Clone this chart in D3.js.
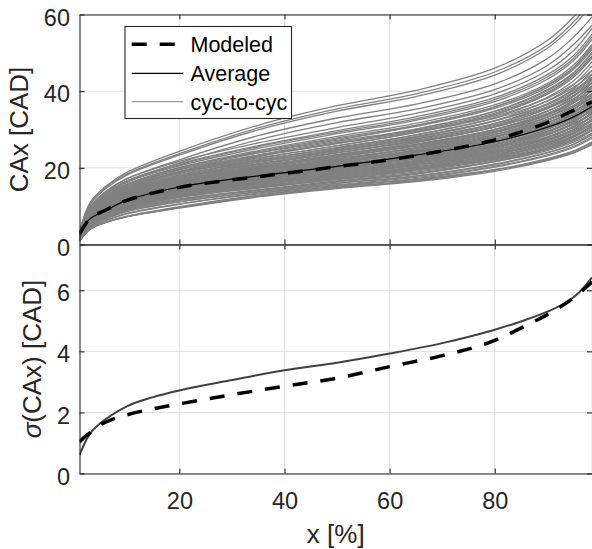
<!DOCTYPE html>
<html>
<head>
<meta charset="utf-8">
<script src="https://cdn.jsdelivr.net/npm/d3@7"></script>
<style>
  body { margin: 0; background: #fff; }
  svg { display: block; }
  text { font-family: "Liberation Sans", Arial, Helvetica, sans-serif; fill: #262626; }
</style>
</head>
<body>
<svg id="chart" width="592" height="549"></svg>
<script>
// ---- data ---------------------------------------------------------------
// positions x [%] (burned mass fraction) where each curve is sampled
const xPercent = [1, 3, 6, 10, 20, 35, 50, 65, 80, 90, 95, 98.5];

// individual cycles: CAx [CAD] at each xPercent
const cycToCyc = [
  [0.9, 3.9, 5.7, 7.2, 9.5, 12.4, 14.6, 16.4, 19.1, 21.9, 23.9, 26.3],
  [0.9, 4.0, 5.8, 7.3, 9.6, 12.6, 14.8, 16.6, 19.4, 22.2, 24.3, 26.6],
  [0.9, 4.0, 5.8, 7.3, 9.7, 12.7, 14.9, 16.7, 19.5, 22.4, 24.4, 26.8],
  [0.9, 4.1, 5.9, 7.4, 9.9, 12.9, 15.2, 17.0, 19.5, 22.0, 24.0, 26.0],
  [0.9, 4.2, 6.2, 8.0, 10.5, 13.2, 15.4, 17.2, 20.2, 23.1, 25.3, 27.7],
  [0.9, 4.3, 6.3, 8.1, 10.6, 13.4, 15.6, 17.5, 20.4, 23.4, 25.6, 28.1],
  [1.0, 4.6, 6.7, 8.6, 11.1, 13.7, 15.9, 17.8, 20.8, 23.9, 26.1, 28.6],
  [1.0, 4.6, 6.7, 8.7, 11.2, 13.8, 16.0, 17.9, 21.0, 24.0, 26.2, 28.8],
  [1.0, 4.7, 6.8, 8.9, 11.5, 14.1, 16.3, 18.3, 21.8, 25.3, 28.0, 31.0],
  [1.1, 4.8, 6.9, 9.0, 11.7, 14.2, 16.5, 18.5, 21.6, 24.8, 27.1, 29.7],
  [1.1, 4.8, 7.0, 9.2, 11.9, 14.3, 16.6, 18.6, 21.7, 24.9, 27.2, 29.9],
  [1.2, 4.9, 7.3, 9.3, 12.2, 14.7, 16.9, 18.9, 21.6, 24.5, 26.7, 29.1],
  [1.4, 5.1, 7.5, 9.5, 12.4, 14.8, 17.0, 19.2, 22.1, 25.2, 27.5, 29.9],
  [1.4, 5.3, 7.7, 9.8, 12.7, 15.1, 17.2, 19.6, 22.7, 26.3, 29.2, 32.7],
  [1.4, 5.2, 7.6, 9.7, 12.6, 15.1, 17.3, 19.5, 22.5, 25.6, 28.0, 30.4],
  [1.2, 5.0, 7.5, 9.6, 12.5, 15.1, 17.4, 19.5, 22.3, 25.2, 27.5, 29.9],
  [1.4, 5.3, 7.7, 9.8, 12.8, 15.2, 17.5, 19.8, 22.8, 25.9, 28.4, 30.8],
  [1.4, 5.5, 8.0, 10.1, 13.1, 15.6, 17.7, 20.2, 23.4, 27.1, 30.1, 33.6],
  [1.4, 5.3, 7.8, 10.0, 13.0, 15.5, 17.8, 20.1, 23.1, 26.3, 28.8, 31.3],
  [1.3, 5.2, 7.7, 9.8, 12.9, 15.6, 17.9, 20.0, 22.9, 26.0, 28.3, 30.8],
  [1.4, 5.4, 7.9, 10.1, 13.1, 15.7, 18.0, 20.3, 23.4, 26.6, 29.2, 31.7],
  [1.5, 5.6, 8.2, 10.4, 13.5, 16.0, 18.2, 20.7, 24.0, 27.8, 30.9, 34.6],
  [1.5, 5.5, 8.1, 10.2, 13.4, 15.9, 18.3, 20.7, 23.8, 27.1, 29.6, 32.2],
  [1.3, 5.3, 7.9, 10.1, 13.2, 16.0, 18.4, 20.6, 23.6, 26.7, 29.1, 31.6],
  [1.5, 5.6, 8.1, 10.4, 13.5, 16.1, 18.5, 20.9, 24.1, 27.4, 30.0, 32.6],
  [1.5, 5.8, 8.4, 10.7, 13.8, 16.5, 18.7, 21.3, 24.7, 28.6, 31.8, 35.5],
  [1.5, 5.6, 8.3, 10.5, 13.7, 16.4, 18.8, 21.2, 24.4, 27.8, 30.5, 33.1],
  [1.3, 5.5, 8.1, 10.4, 13.6, 16.4, 18.9, 21.2, 24.2, 27.4, 29.9, 32.5],
  [1.5, 5.7, 8.4, 10.6, 13.9, 16.5, 19.0, 21.5, 24.7, 28.1, 30.8, 33.4],
  [1.5, 6.0, 8.6, 10.9, 14.2, 16.9, 19.2, 21.9, 25.3, 29.4, 32.6, 36.5],
  [1.5, 5.8, 8.5, 10.8, 14.1, 16.8, 19.3, 21.8, 25.1, 28.6, 31.3, 34.0],
  [1.4, 5.6, 8.3, 10.7, 14.0, 16.9, 19.4, 21.7, 24.8, 28.1, 30.7, 33.4],
  [1.6, 5.9, 8.6, 10.9, 14.2, 17.0, 19.5, 22.0, 25.4, 28.9, 31.6, 34.3],
  [1.6, 6.1, 8.9, 11.2, 14.6, 17.3, 19.7, 22.5, 26.0, 30.1, 33.5, 37.4],
  [1.6, 5.9, 8.7, 11.1, 14.5, 17.2, 19.8, 22.4, 25.7, 29.3, 32.1, 34.8],
  [1.4, 5.8, 8.6, 10.9, 14.3, 17.3, 19.9, 22.3, 25.5, 28.9, 31.4, 34.2],
  [1.6, 6.0, 8.8, 11.2, 14.6, 17.4, 20.0, 22.6, 26.0, 29.6, 32.4, 35.2],
  [1.6, 6.3, 9.1, 11.5, 14.9, 17.8, 20.2, 23.0, 26.7, 30.9, 34.3, 38.4],
  [1.6, 6.1, 8.9, 11.4, 14.8, 17.7, 20.3, 22.9, 26.4, 30.0, 32.9, 35.7],
  [1.4, 5.9, 8.8, 11.2, 14.7, 17.7, 20.4, 22.8, 26.1, 29.6, 32.2, 35.1],
  [1.6, 6.2, 9.1, 11.5, 15.0, 17.9, 20.6, 23.3, 26.8, 30.5, 33.4, 36.3],
  [1.7, 6.4, 9.3, 11.8, 15.3, 18.2, 20.7, 23.6, 27.3, 31.7, 35.2, 39.3],
  [1.7, 6.3, 9.2, 11.7, 15.3, 18.2, 20.9, 23.6, 27.2, 30.9, 33.9, 36.8],
  [1.5, 6.1, 9.0, 11.5, 15.0, 18.2, 20.9, 23.4, 26.8, 30.3, 33.0, 35.9],
  [1.7, 6.4, 9.3, 11.9, 15.5, 18.4, 21.2, 24.0, 27.6, 31.4, 34.3, 37.3],
  [1.7, 6.6, 9.5, 12.1, 15.7, 18.7, 21.2, 24.2, 28.0, 32.4, 36.0, 40.3],
  [1.5, 6.2, 9.2, 11.8, 15.4, 18.6, 21.4, 24.0, 27.4, 31.0, 33.8, 36.8],
  [1.7, 6.5, 9.5, 12.0, 15.7, 18.7, 21.5, 24.3, 28.0, 31.8, 34.8, 37.8],
  [1.7, 6.7, 9.8, 12.4, 16.1, 19.1, 21.7, 24.7, 28.6, 33.2, 36.9, 41.2],
  [1.7, 6.5, 9.6, 12.2, 15.9, 19.0, 21.8, 24.6, 28.3, 32.3, 35.3, 38.4],
  [1.5, 6.4, 9.4, 12.0, 15.8, 19.1, 21.9, 24.5, 28.0, 31.8, 34.6, 37.7],
  [1.8, 6.6, 9.7, 12.4, 16.1, 19.2, 22.1, 25.0, 28.7, 32.7, 35.8, 38.9],
  [1.8, 6.9, 10.0, 12.7, 16.4, 19.5, 22.2, 25.3, 29.3, 34.0, 37.7, 42.2],
  [1.8, 6.7, 9.9, 12.5, 16.4, 19.5, 22.4, 25.3, 29.1, 33.2, 36.3, 39.4],
  [1.6, 6.5, 9.6, 12.3, 16.1, 19.5, 22.4, 25.1, 28.7, 32.5, 35.4, 38.5],
  [1.8, 7.0, 10.2, 12.9, 16.8, 20.0, 22.7, 25.9, 30.0, 34.7, 38.6, 43.1],
  [1.8, 6.8, 10.0, 12.8, 16.6, 19.8, 22.8, 25.8, 29.6, 33.7, 36.9, 40.1],
  [1.6, 6.6, 9.8, 12.6, 16.5, 19.9, 22.9, 25.6, 29.3, 33.2, 36.2, 39.4],
  [1.8, 6.9, 10.2, 12.9, 16.9, 20.1, 23.1, 26.1, 30.0, 34.2, 37.4, 40.7],
  [1.9, 7.2, 10.5, 13.3, 17.2, 20.5, 23.3, 26.6, 30.8, 35.6, 39.6, 44.3],
  [1.6, 6.8, 10.1, 12.9, 16.8, 20.4, 23.4, 26.2, 30.0, 33.9, 37.0, 40.2],
  [1.9, 7.1, 10.3, 13.2, 17.2, 20.4, 23.5, 26.6, 30.6, 34.8, 38.1, 41.4],
  [1.9, 7.4, 10.8, 13.6, 17.7, 21.0, 23.9, 27.2, 31.5, 36.6, 40.6, 45.4],
  [1.9, 7.2, 10.5, 13.4, 17.4, 20.8, 23.9, 27.0, 31.1, 35.4, 38.7, 42.1],
  [1.7, 7.0, 10.3, 13.2, 17.3, 20.9, 24.0, 26.9, 30.7, 34.8, 37.9, 41.3],
  [1.9, 7.3, 10.7, 13.6, 17.7, 21.1, 24.3, 27.5, 31.6, 36.0, 39.4, 42.8],
  [2.0, 7.6, 11.0, 14.0, 18.1, 21.6, 24.5, 27.9, 32.3, 37.5, 41.7, 46.6],
  [1.7, 7.1, 10.6, 13.5, 17.7, 21.4, 24.6, 27.6, 31.5, 35.7, 38.9, 42.3],
  [2.0, 7.4, 10.9, 13.9, 18.1, 21.6, 24.8, 28.0, 32.2, 36.7, 40.2, 43.6],
  [2.0, 7.8, 11.3, 14.3, 18.6, 22.1, 25.1, 28.6, 33.1, 38.4, 42.7, 47.7],
  [1.8, 7.3, 10.8, 13.9, 18.1, 21.9, 25.2, 28.2, 32.3, 36.5, 39.8, 43.3],
  [2.0, 7.6, 11.1, 14.2, 18.5, 22.0, 25.3, 28.6, 32.9, 37.4, 41.0, 44.5],
  [2.1, 8.0, 11.6, 14.6, 19.0, 22.6, 25.7, 29.3, 33.9, 39.3, 43.7, 48.8],
  [2.1, 7.7, 11.4, 14.4, 18.8, 22.4, 25.8, 29.2, 33.5, 38.2, 41.8, 45.4],
  [2.4, 8.2, 11.8, 14.7, 18.7, 22.9, 26.3, 29.5, 33.9, 39.2, 43.7, 48.7],
  [2.1, 8.2, 11.9, 15.0, 19.5, 23.2, 26.4, 30.1, 34.8, 40.4, 44.9, 50.2],
  [2.4, 8.2, 12.0, 14.9, 18.9, 23.1, 26.6, 29.8, 34.3, 39.6, 44.2, 49.2],
  [2.4, 8.3, 12.1, 15.1, 19.1, 23.4, 26.9, 30.1, 34.7, 40.1, 44.7, 49.8],
  [2.2, 8.4, 12.2, 15.5, 20.1, 23.9, 27.2, 31.0, 35.9, 41.6, 46.2, 51.7],
  [2.5, 8.5, 12.4, 15.4, 19.5, 23.9, 27.5, 30.8, 35.5, 41.0, 45.7, 50.9],
  [2.5, 8.6, 12.5, 15.6, 19.7, 24.2, 27.8, 31.1, 35.9, 41.4, 46.1, 51.4],
  [2.5, 8.7, 12.7, 15.8, 20.0, 24.5, 28.2, 31.6, 36.4, 42.0, 46.8, 52.2],
  [2.6, 9.0, 13.0, 16.2, 20.5, 25.1, 28.9, 32.4, 37.3, 43.1, 48.0, 53.5],
  [2.6, 9.1, 13.2, 16.4, 20.8, 25.5, 29.3, 32.8, 37.8, 43.7, 48.6, 54.2],
  [2.7, 9.2, 13.4, 16.6, 21.1, 25.8, 29.7, 33.3, 38.3, 44.3, 49.3, 54.9],
  [2.7, 9.5, 13.7, 17.1, 21.7, 26.5, 30.5, 34.2, 39.3, 45.4, 50.6, 56.4],
  [2.9, 9.5, 13.4, 16.5, 21.3, 27.3, 31.8, 35.3, 40.4, 46.7, 52.2, 57.2],
  [3.0, 9.9, 13.9, 17.2, 22.1, 28.4, 33.0, 36.6, 41.9, 48.5, 54.1, 59.4],
  [3.1, 10.4, 14.6, 18.1, 23.3, 29.9, 34.8, 38.6, 44.2, 51.2, 57.1, 62.6],
  [3.2, 10.6, 14.9, 18.4, 23.7, 30.4, 35.4, 39.3, 45.0, 52.0, 58.1, 63.7],
  [3.3, 10.9, 15.2, 18.8, 24.3, 31.1, 36.2, 40.2, 46.0, 53.2, 59.4, 65.2]
];

// mean over cycles and model prediction, CAx [CAD]
const averageCAx = [3.2, 6.7, 8.9, 11.5, 15.0, 17.9, 20.4, 23.3, 26.8, 30.6, 33.3, 36.0];
const modeledCAx = [2.6, 6.8, 9.0, 11.5, 14.9, 17.7, 20.3, 23.2, 27.3, 31.8, 35.0, 37.2];

// standard deviation of CAx [CAD]
const xSigma       = [1, 2, 3, 5, 7, 10, 15, 20, 30, 40, 50, 60, 70, 80, 85, 90, 94, 96, 98.5];
const sigmaAverage = [0.6, 1.0, 1.3, 1.65, 1.9, 2.2, 2.5, 2.72, 3.06, 3.38, 3.63, 3.93, 4.27, 4.71, 4.98, 5.3, 5.65, 5.92, 6.42];
const xSigmaModel  = [1, 2, 3, 5, 7, 10, 15, 20, 30, 40, 50, 60, 70, 80, 86, 91, 96, 98.5];
const sigmaModeled = [1.03, 1.2, 1.33, 1.6, 1.76, 1.92, 2.12, 2.28, 2.58, 2.86, 3.12, 3.5, 3.86, 4.36, 4.85, 5.3, 5.89, 6.28];

// axis ticks
const xTicks = [20, 40, 60, 80];
const yTicksTop = [0, 20, 40, 60];
const yTicksBottom = [0, 2, 4, 6];

// legend entries
const legendLabels = ["Modeled", "Average", "cyc-to-cyc"];

// ---- layout -------------------------------------------------------------
const svg = d3.select("#chart");
const left = 79.5, right = 592;
const topY0 = 14.5, midY = 244.5, botY1 = 473.5;
const axisColor = "#262626", gridColor = "#dfdfdf", cycColor = "#808080";
const tickFont = 23.5, labelFont = 26, legendFont = 21.5;

const x = d3.scaleLinear().domain([1, 98.5]).range([left, right]);
const yTop = d3.scaleLinear().domain([0, 60]).range([midY, topY0]);
const yBot = d3.scaleLinear().domain([0, 7.5]).range([botY1, midY]);

const defs = svg.append("defs");
defs.append("clipPath").attr("id", "clipTop").append("rect")
  .attr("x", left).attr("y", topY0).attr("width", right - left).attr("height", midY - topY0);
defs.append("clipPath").attr("id", "clipBot").append("rect")
  .attr("x", left).attr("y", midY).attr("width", right - left).attr("height", botY1 - midY);

function grid(yScale, yTicks, y0, y1) {
  const g = svg.append("g");
  g.selectAll("line.v").data(xTicks).join("line")
    .attr("x1", d => x(d)).attr("x2", d => x(d)).attr("y1", y0).attr("y2", y1)
    .attr("stroke", gridColor).attr("stroke-width", 1);
  g.selectAll("line.h").data(yTicks).join("line")
    .attr("x1", left).attr("x2", right).attr("y1", d => yScale(d)).attr("y2", d => yScale(d))
    .attr("stroke", gridColor).attr("stroke-width", 1);
}

function styleAxis(g, showLabels) {
  g.attr("font-family", null).attr("font-size", null);
  g.select(".domain").attr("stroke", axisColor).attr("stroke-width", 1.1);
  g.selectAll(".tick line").attr("stroke", axisColor).attr("stroke-width", 1.1);
  g.selectAll(".tick text").attr("font-size", tickFont).style("fill", axisColor);
  if (!showLabels) g.selectAll(".tick text").remove();
}

function axes(yScale, yTicks, y0, y1, showX) {
  const gl = svg.append("g").attr("transform", `translate(${left},0)`)
    .call(d3.axisLeft(yScale).tickValues(yTicks).tickFormat(d3.format("d"))
      .tickSizeInner(-5).tickSizeOuter(0).tickPadding(9.5));
  styleAxis(gl, true);
  gl.selectAll(".tick text").attr("dy", "0.45em");

  const gr = svg.append("g").attr("transform", `translate(${right},0)`)
    .call(d3.axisRight(yScale).tickValues(yTicks).tickSizeInner(-5).tickSizeOuter(0));
  styleAxis(gr, false);

  const gb = svg.append("g").attr("transform", `translate(0,${y1})`)
    .call(d3.axisBottom(x).tickValues(xTicks).tickFormat(d3.format("d"))
      .tickSizeInner(-5).tickSizeOuter(0).tickPadding(19.3));
  styleAxis(gb, showX);

  const gt = svg.append("g").attr("transform", `translate(0,${y0})`)
    .call(d3.axisTop(x).tickValues(xTicks).tickSizeInner(-5).tickSizeOuter(0));
  styleAxis(gt, false);
}

// ---- top panel: CAx ----------------------------------------------------
grid(yTop, yTicksTop, topY0, midY);

const lineTop = d3.line()
  .x((d, i) => x(xPercent[i])).y(d => yTop(d))
  .curve(d3.curveCatmullRom.alpha(0.5));

const plotTop = svg.append("g").attr("clip-path", "url(#clipTop)");
plotTop.selectAll("path.cyc").data(cycToCyc).join("path")
  .attr("class", "cyc").attr("d", lineTop)
  .attr("fill", "none").attr("stroke", cycColor).attr("stroke-width", 1.3);
plotTop.append("path").datum(averageCAx).attr("d", lineTop)
  .attr("fill", "none").attr("stroke", "#000").attr("stroke-width", 1.2);
plotTop.append("path").datum(modeledCAx).attr("d", lineTop)
  .attr("fill", "none").attr("stroke", "#000").attr("stroke-width", 3.5)
  .attr("stroke-dasharray", "15,13");

axes(yTop, yTicksTop, topY0, midY, false);

// ---- bottom panel: sigma(CAx) ------------------------------------------
grid(yBot, yTicksBottom, midY, botY1);

const plotBot = svg.append("g").attr("clip-path", "url(#clipBot)");
plotBot.append("path").datum(sigmaAverage)
  .attr("d", d3.line().x((d, i) => x(xSigma[i])).y(d => yBot(d)).curve(d3.curveMonotoneX))
  .attr("fill", "none").attr("stroke", "#404040").attr("stroke-width", 2);
plotBot.append("path").datum(sigmaModeled)
  .attr("d", d3.line().x((d, i) => x(xSigmaModel[i])).y(d => yBot(d)).curve(d3.curveMonotoneX))
  .attr("fill", "none").attr("stroke", "#000").attr("stroke-width", 3.5)
  .attr("stroke-dasharray", "15,13");

axes(yBot, yTicksBottom, midY, botY1, true);

// ---- axis labels ---------------------------------------------------------
svg.append("text")
  .attr("transform", `translate(27.5,${(topY0 + midY) / 2}) rotate(-90)`)
  .attr("text-anchor", "middle").attr("font-size", labelFont)
  .text("CAx [CAD]");

const sigLabel = svg.append("text")
  .attr("transform", `translate(40.5,${(midY + botY1) / 2}) rotate(-90)`)
  .attr("text-anchor", "middle").attr("font-size", labelFont);
sigLabel.append("tspan").attr("font-style", "italic").text("σ");
sigLabel.append("tspan").text("(CAx) [CAD]");

svg.append("text")
  .attr("x", (left + right) / 2).attr("y", 543)
  .attr("text-anchor", "middle").attr("font-size", labelFont)
  .text("x [%]");

// ---- legend ---------------------------------------------------------------
const legend = svg.append("g");
legend.append("rect")
  .attr("x", 125).attr("y", 26.5).attr("width", 166.5).attr("height", 92)
  .attr("fill", "#fff").attr("stroke", axisColor).attr("stroke-width", 1.1);
const legendStyles = [
  { stroke: "#000", width: 3.5, dash: "15,13" },
  { stroke: "#000", width: 1.2, dash: null },
  { stroke: cycColor, width: 1, dash: null }
];
const legendRowY = [44.3, 73.3, 101.7];
legendLabels.forEach((label, i) => {
  const s = legendStyles[i];
  legend.append("line")
    .attr("x1", 131.7).attr("x2", 183.3)
    .attr("y1", legendRowY[i]).attr("y2", legendRowY[i])
    .attr("stroke", s.stroke).attr("stroke-width", s.width)
    .attr("stroke-dasharray", s.dash);
  legend.append("text")
    .attr("x", 190.5).attr("y", legendRowY[i] + 8)
    .attr("font-size", legendFont)
    .style("fill", "#000")
    .text(label);
});
</script>
</body>
</html>
